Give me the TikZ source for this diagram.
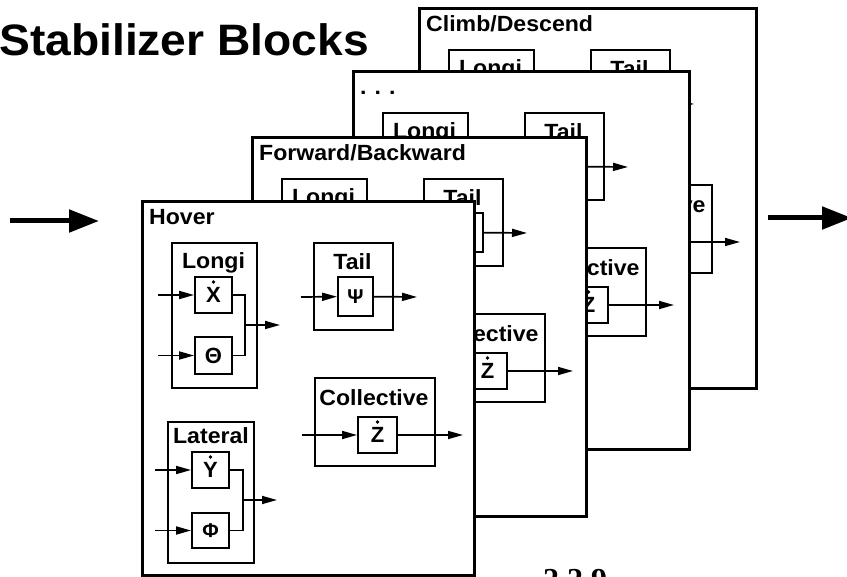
\documentclass[tikz,border=0pt]{standalone}
\usepackage{fontspec}
\setmainfont{Liberation Sans}
\newfontfamily\hv{Liberation Sans}[FakeStretch=1.05]
\newfontfamily\hvn{Liberation Sans}
\newfontfamily\tms{Liberation Serif}
\usetikzlibrary{arrows.meta}
\tikzset{
  frame/.style={draw, line width=2.8pt, fill=white, inner sep=0pt, anchor=north west},
  grp/.style={draw, line width=1.9pt, inner sep=0pt, anchor=north west},
  sbox/.style={draw, line width=1.9pt, fill=white, inner sep=0pt, minimum width=37pt, minimum height=36pt, font=\hvn\bfseries\fontsize{22}{22}\selectfont},
  lab/.style={inner sep=0pt, anchor=base, font=\hv\bfseries\fontsize{22}{22}\selectfont},
  flab/.style={inner sep=0pt, anchor=base west, font=\hv\bfseries\fontsize{22}{22}\selectfont},
  wire/.style={line width=1.7pt},
  arr/.style={line width=1.7pt, -{Triangle[length=15pt,width=8pt]}},
  bigarr/.style={line width=5pt, -{Triangle[length=30pt,width=22pt]}},
}
% parts of a frame that show in every layer
\newcommand\stabframe[6]{%
\begin{scope}[shift={(#2,#3)}]
  \node[frame, minimum width=#4pt, minimum height=#5pt] (#1-frame) at (0,0) {};
  \node[flab] (#1-label) at (8,25) {#6};
  \node[grp, minimum width=85pt, minimum height=145pt] (#1-longi) at (30,42) {};
  \node[lab] (#1-longit) at (72.5,69) {Longi};
  \node[grp, minimum width=79pt, minimum height=87pt] (#1-tail) at (172,42) {};
  \node[lab] (#1-tailt) at (211.5,70) {Tail};
  \node[sbox, minimum width=35pt, minimum height=39pt, font=\hvn\bfseries\fontsize{20}{20}\selectfont] (#1-psi) at (214.5,96.5) {Ψ};
  \coordinate (#1-o3) at (276,97);
  \draw[arr] (#1-psi) -- (#1-o3);
  \node[grp, minimum width=120pt, minimum height=88pt] (#1-coll) at (173,177) {};
  \node[lab] (#1-collt) at (233,206) {Collective};
  \node[sbox, minimum width=39pt] (#1-zdot) at (236.5,235) {Z};
  \fill ([yshift=13pt]#1-zdot.center) circle (1.8pt);
  \coordinate (#1-o4) at (322,235);
  \draw[arr] (#1-zdot) -- (#1-o4);
\end{scope}}
% parts that show only in the front layer
\newcommand\stabfront[3]{%
\begin{scope}[shift={(#2,#3)}]
  \node[sbox] (#1-xdot) at (72.5,95) {X};
  \fill ([yshift=13pt]#1-xdot.center) circle (1.8pt);
  \node[sbox, minimum height=37pt] (#1-theta) at (72.5,155.5) {Θ};
  \coordinate (#1-i1) at (17,95);
  \coordinate (#1-i2) at (17,155.5);
  \coordinate (#1-j1) at (104,125);
  \coordinate (#1-o1) at (139,125);
  \draw[arr] (#1-i1) -- (#1-xdot);
  \draw[arr] (#1-i2) -- (#1-theta);
  \draw[wire] (#1-xdot.east) -| (#1-j1) |- (#1-theta.east);
  \draw[arr] (#1-j1) -- (#1-o1);
  \coordinate (#1-i3) at (160,97);
  \draw[arr] (#1-i3) -- (#1-psi);
  \coordinate (#1-i4) at (161,235);
  \draw[arr] (#1-i4) -- (#1-zdot);
  \node[grp, minimum width=86pt, minimum height=141pt] (#1-lat) at (26,221) {};
  \node[lab] (#1-latt) at (70,244) {Lateral};
  \node[sbox] (#1-ydot) at (69.5,270) {Y};
  \fill ([yshift=13pt]#1-ydot.center) circle (1.8pt);
  \node[sbox, minimum height=35pt, font=\hvn\bfseries\fontsize{20}{20}\selectfont] (#1-phi) at (69.5,330.5) {Φ};
  \coordinate (#1-i5) at (14,270);
  \coordinate (#1-i6) at (14,330.5);
  \coordinate (#1-j2) at (102,300);
  \coordinate (#1-o2) at (136,300);
  \draw[arr] (#1-i5) -- (#1-ydot);
  \draw[arr] (#1-i6) -- (#1-phi);
  \draw[wire] (#1-ydot.east) -| (#1-j2) |- (#1-phi.east);
  \draw[arr] (#1-j2) -- (#1-o2);
\end{scope}}
\begin{document}
\begin{tikzpicture}[x=1pt,y=-1pt]
  \useasboundingbox (0,0) rectangle (847,577);
  \clip (0,0) rectangle (847,577);
  \fill[white] (0,0) rectangle (847,577);
  \node[anchor=base west, inner sep=0pt, font=\hv\bfseries\fontsize{44}{44}\selectfont] (title) at (-1,56) {Stabilizer Blocks};
  \stabframe{cd}{418}{7}{337}{380}{Climb/Descend}
  \stabframe{dd}{352}{70}{336}{378}{.\hspace{8pt}.\hspace{8pt}.}
  \stabframe{fb}{251}{136}{334}{379}{Forward/Backward}
  \stabframe{hv}{141}{200}{332}{374}{Hover}
  \stabfront{hv}{141}{200}
  \coordinate (la1) at (10,221);
  \coordinate (la2) at (99,221);
  \draw[bigarr] (la1) -- (la2);
  \coordinate (ra1) at (768,218);
  \coordinate (ra2) at (852,218);
  \draw[bigarr] (ra1) -- (ra2);
  \node[anchor=base west, inner sep=0pt, font=\tms\bfseries\fontsize{32}{32}\selectfont] (pg) at (543,590) {2.2.9};
\end{tikzpicture}
\end{document}
